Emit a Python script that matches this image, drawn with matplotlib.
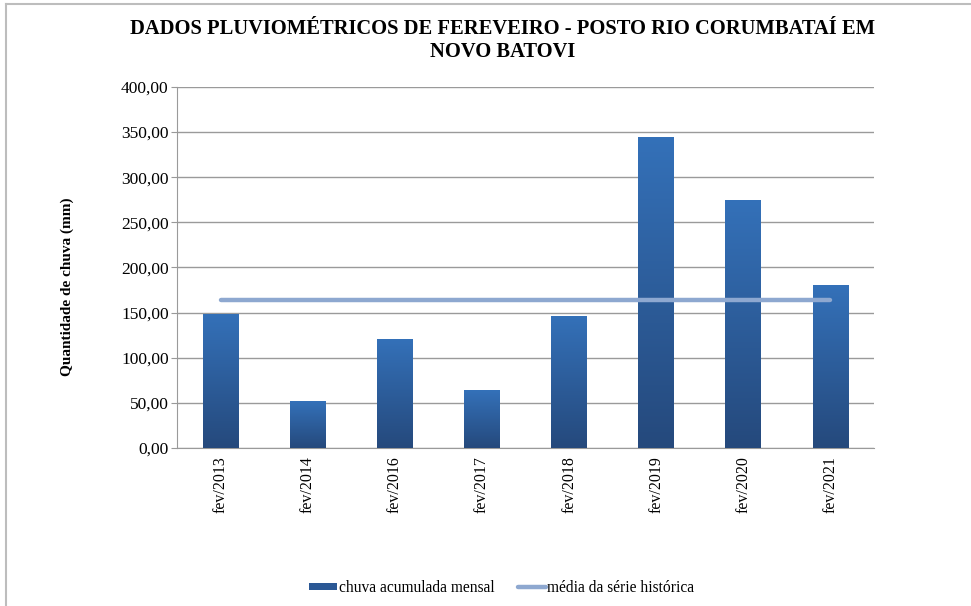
import numpy as np
import matplotlib.pyplot as plt
from matplotlib.colors import LinearSegmentedColormap
from matplotlib.patches import Patch
from matplotlib.lines import Line2D

plt.rcParams["font.family"] = ["Liberation Serif", "DejaVu Serif"]

meses = ["fev/2013", "fev/2014", "fev/2016", "fev/2017", "fev/2018", "fev/2019", "fev/2020", "fev/2021"]
chuva = [149.0, 52.0, 120.8, 64.2, 146.5, 345.0, 274.8, 180.6]
media = [164.0] * len(meses)

fig = plt.figure(figsize=(9.71, 6.06), dpi=100)
ax = fig.add_axes([177 / 971, 1 - 448 / 606, (874 - 177) / 971, (448 - 87) / 606])

x = np.arange(len(meses))
bars = ax.bar(x, chuva, width=0.41, color="#2E62A3", zorder=2)

# vertical gradient inside every bar
cmap = LinearSegmentedColormap.from_list("azul", ["#25497C", "#3471B9"])
grad = np.linspace(0, 1, 256).reshape(-1, 1)
for b in bars:
    bx, by = b.get_x(), b.get_y()
    w, h = b.get_width(), b.get_height()
    im = ax.imshow(grad, cmap=cmap, origin="lower", aspect="auto",
                   extent=(bx, bx + w, by, by + h), zorder=3)
    im.set_clip_path(b)
ax.set_aspect("auto")

ax.plot(x, media, color="#8EA8D0", lw=3.2, solid_capstyle="round", zorder=4)

ax.set_xlim(-0.5, len(meses) - 0.5)
ax.set_ylim(0, 400)
ax.set_yticks(np.arange(0, 401, 50))
ax.set_yticklabels([f"{v:.2f}".replace(".", ",") for v in np.arange(0, 401, 50)], fontsize=12.5)
ax.set_xticks(x)
ax.set_xticklabels(meses, rotation=90, fontsize=11.5)
ax.tick_params(axis="x", length=0, pad=6)
ax.tick_params(axis="y", length=4, color="#999999", pad=2)

ax.grid(axis="y", color="#9A9A9A", lw=1.0, zorder=0)
for s in ["top", "right"]:
    ax.spines[s].set_visible(False)
ax.spines["left"].set_color("#9A9A9A")
ax.spines["bottom"].set_color("#9A9A9A")

ax.set_ylabel("Quantidade de chuva (mm)", fontsize=11, fontweight="bold")
ax.yaxis.set_label_coords((74 - 177) / 697, (448 - 287) / 361)

fig.suptitle("DADOS PLUVIOMÉTRICOS DE FEREVEIRO - POSTO RIO CORUMBATAÍ EM\nNOVO BATOVI",
             x=0.518, y=0.968, fontsize=14.8, fontweight="bold", linespacing=1.15)

handles = [Patch(facecolor="#2B5895", edgecolor="none"),
           Line2D([0], [0], color="#8EA8D0", lw=3.2, solid_capstyle="round")]
fig.legend(handles, ["chuva acumulada mensal", "média da série histórica"],
           loc="center", bbox_to_anchor=(0.517, 1 - 588 / 606), ncol=2, frameon=False,
           fontsize=11.2, handlelength=1.8, handleheight=0.35, handletextpad=0.1, columnspacing=1.5)

# outer frame on the left and top edges
fig.add_artist(Line2D([6 / 971, 6 / 971], [0, 1 - 4 / 606], color="#BDBDBD", lw=1.5, transform=fig.transFigure))
fig.add_artist(Line2D([6 / 971, 1], [1 - 4 / 606, 1 - 4 / 606], color="#BDBDBD", lw=1.5, transform=fig.transFigure))

fig.savefig("out.png", dpi=100)
